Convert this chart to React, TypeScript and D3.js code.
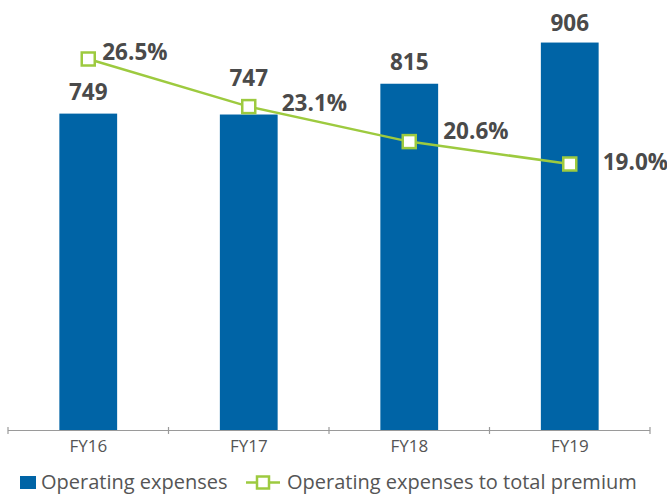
import React from "react";
import * as d3 from "d3";

const categories = ["FY16", "FY17", "FY18", "FY19"];
const expenses = [749, 747, 815, 906];
const ratio = [26.5, 23.1, 20.6, 19.0];
const barSeriesName = "Operating expenses";
const lineSeriesName = "Operating expenses to total premium";

const W = 667;
const H = 498;
const BLUE = "#0064a6";
const GREEN = "#9dca3f";
const TEXT = "#4a4a4a";
const FONT = "'Open Sans', sans-serif";

// label placement tweaks (layout only)
const pctDx = [14, 33, 34, 33];
const pctDy = [1, 4, -3, 6];
const barLabelGap = [14, 29, 14, 12];

export default function App() {
  const x = d3.scaleBand<string>().domain(categories).range([8, 650]).paddingInner(0.64).paddingOuter(0.32);
  const yBar = d3.scaleLinear().domain([50, 1000]).range([430, 0]);
  const yLine = d3.scaleLinear().domain([0, 30]).range([430, 10]);
  const bw = x.bandwidth();
  const cx = (c: string) => (x(c) as number) + bw / 2;
  const boundaries = d3.range(categories.length + 1).map((i) => 8 + i * ((650 - 8) / categories.length));
  const line = d3
    .line<number>()
    .x((_, i) => cx(categories[i]))
    .y((d) => yLine(d));

  return (
    <svg width={W} height={H} style={{ position: "absolute", left: 0, top: 0, display: "block" }} fontFamily={FONT}>
      <rect width={W} height={H} fill="#fff" />
      {expenses.map((v, i) => (
        <rect key={i} x={x(categories[i])} y={yBar(v)} width={bw} height={yBar.range()[0] - yBar(v)} fill={BLUE} />
      ))}
      {expenses.map((v, i) => (
        <text key={i} x={cx(categories[i])} y={yBar(v) - barLabelGap[i]} textAnchor="middle" fontSize={22.5} fontWeight={700} fill={TEXT}>
          {v}
        </text>
      ))}
      <line x1={8} x2={650} y1={430.5} y2={430.5} stroke="#9a9a9a" strokeWidth={1.2} />
      {boundaries.map((b, i) => (
        <line key={i} x1={b} x2={b} y1={427} y2={434} stroke="#9a9a9a" strokeWidth={1.2} />
      ))}
      {categories.map((c) => (
        <text key={c} x={cx(c)} y={452} textAnchor="middle" fontSize={17} fill="#555">
          {c}
        </text>
      ))}
      <path d={line(ratio) || ""} fill="none" stroke={GREEN} strokeWidth={2.5} />
      {ratio.map((v, i) => (
        <rect key={i} x={cx(categories[i]) - 6.5} y={yLine(v) - 6.5} width={13} height={13} fill="#fff" stroke={GREEN} strokeWidth={2.5} />
      ))}
      {ratio.map((v, i) => (
        <text key={i} x={cx(categories[i]) + pctDx[i]} y={yLine(v) + pctDy[i]} fontSize={22.5} fontWeight={700} fill={TEXT}>
          {v.toFixed(1)}%
        </text>
      ))}
      <g>
        <rect x={20} y={476} width={16} height={13} fill={BLUE} />
        <text x={41} y={489} fontSize={20} fill="#555">{barSeriesName}</text>
        <line x1={246} x2={280} y1={482.5} y2={482.5} stroke={GREEN} strokeWidth={2.5} />
        <rect x={257} y={476.5} width={12} height={12} fill="#fff" stroke={GREEN} strokeWidth={2.5} />
        <text x={287} y={489} fontSize={20} fill="#555">{lineSeriesName}</text>
      </g>
    </svg>
  );
}
